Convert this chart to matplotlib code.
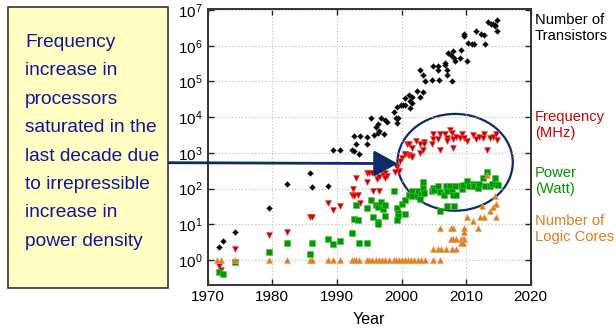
import matplotlib
matplotlib.use("Agg")
import matplotlib.pyplot as plt
from matplotlib.patches import Ellipse, Rectangle

plt.rcParams["font.family"] = ["Liberation Sans", "DejaVu Sans"]
plt.rcParams["mathtext.fontset"] = "custom"
plt.rcParams["mathtext.rm"] = "Liberation Sans"
plt.rcParams["mathtext.it"] = "Liberation Sans"

# ---------------------------------------------------------------------------
# data (year, value)
# ---------------------------------------------------------------------------
trans_year = [1971.7, 1972.3, 1974.2, 1979.5, 1982.2, 1985.9, 1986.2, 1988.6,
              1989.4, 1990.5, 1992.3, 1992.6, 1993.4, 1992.6, 1993.5, 1993.0,
              1994.7, 1994.7, 1995.3, 1995.7, 1996.3, 1996.5, 1996.1, 1996.3,
              1996.9, 1997.5, 1997.7, 1997.3, 1998.8, 1999.3, 1999.9, 2000.6,
              1999.2, 1999.5, 1999.3, 2001.3, 2001.1, 2000.5, 2001.3, 2001.7,
              2000.3, 2002.8, 2003.4, 2001.7, 2002.4, 2002.9, 2003.4, 2003.6,
              2004.7, 2004.8, 2005.6, 2005.8, 2005.7, 2006.7, 2007.0, 2007.1,
              2006.7, 2007.8, 2007.2, 2007.9, 2007.7, 2008.1, 2008.3, 2009.2,
              2009.1, 2010.1, 2009.6, 2009.7, 2010.3, 2010.9, 2011.3, 2011.5,
              2012.3, 2012.7, 2013.0, 2013.4, 2013.8, 2014.1, 2014.4, 2014.8,
              2014.8, 2014.5]
trans_val = [2.3, 3.5, 6.1, 29, 134, 275, 110, 118,
             1180, 1180, 1180, 1100, 910, 2950, 2950, 1740,
             1820, 2750, 9500, 3160, 3630, 4070, 5250, 6460,
             9550, 8500, 7400, 3470, 14100, 19000, 21400, 21400,
             9550, 9550, 6800, 18200, 40700, 34700, 27500, 24500,
             21400, 36300, 50100, 36300, 52500, 209000, 148000, 105000,
             112000, 263000, 209000, 112000, 263000, 288000, 155000, 209000,
             324000, 105000, 617000, 708000, 550000, 447000, 372000, 759000,
             447000, 372000, 2190000, 1860000, 1230000, 1120000, 1120000, 2570000,
             2190000, 2000000, 1120000, 4680000, 4170000, 4170000, 3630000, 5130000,
             2570000, 3720000]

freq_year = [1971.7, 1972.1, 1974.2, 1979.5, 1982.2, 1985.8, 1986.2, 1988.6,
             1989.4, 1990.5, 1992.3, 1992.6, 1993.3, 1993.5, 1993.0, 1992.5,
             1994.6, 1995.0, 1995.4, 1994.7, 1996.2, 1996.5, 1997.1, 1997.5,
             1997.8, 1997.5, 1995.6, 1996.5, 1999.3, 1999.6, 2000.1, 2000.6,
             2001.0, 2000.9, 1999.1, 1999.0, 1999.8, 2000.5, 2001.1, 2001.4,
             2001.7, 2001.2, 2001.7, 2002.2, 2002.8, 2002.9, 2003.3, 2003.5,
             2003.5, 2004.8, 2004.8, 2004.7, 2005.9, 2006.0, 2005.7, 2006.7,
             2007.0, 2007.5, 2007.8, 2007.1, 2008.0, 2007.9, 2008.4, 2009.1,
             2009.3, 2009.6, 2010.2, 2011.0, 2011.5, 2012.0, 2012.8, 2012.6,
             2013.3, 2013.7, 2014.2, 2014.6, 2014.8]
freq_val = [0.68, 0.52, 2.0, 4.9, 6.2, 15.5, 15.5, 39,
            25, 33, 65, 60, 68, 39, 200, 98,
            280, 280, 280, 150, 190, 205, 245, 270,
            225, 200, 87, 87, 410, 316, 740, 910,
            850, 1820, 440, 300, 600, 910, 870, 810,
            780, 1820, 1350, 2140, 1820, 1020, 1170, 2040,
            1740, 3470, 2510, 1820, 3310, 1170, 2400, 3470,
            2690, 4270, 3630, 2140, 2400, 1350, 2750, 2690,
            3310, 2570, 2140, 3160, 2400, 2750, 3470, 2690,
            1170, 2570, 2750, 3470, 2240]

power_year = [1971.7, 1972.3, 1974.2, 1979.5, 1982.2, 1985.9, 1986.2, 1988.6,
              1989.4, 1990.5, 1992.3, 1992.6, 1993.3, 1993.0, 1993.4, 1994.7,
              1994.7, 1995.3, 1995.6, 1996.0, 1996.3, 1996.4, 1996.4, 1996.8,
              1997.2, 1997.5, 1997.5, 1998.8, 1999.3, 1999.4, 1999.4, 1999.3,
              2000.1, 2000.6, 2000.6, 2001.1, 2001.7, 2001.7, 2002.4, 2002.6,
              2003.0, 2003.3, 2003.4, 2002.8, 2003.5, 2004.7, 2004.8, 2005.0,
              2005.7, 2005.9, 2006.0, 2006.6, 2006.9, 2007.0, 2007.1, 2007.5,
              2007.8, 2007.9, 2008.1, 2008.3, 2008.5, 2009.2, 2009.4, 2009.5,
              2010.2, 2010.5, 2011.0, 2011.3, 2011.8, 2012.0, 2012.6, 2013.0,
              2013.2, 2013.7, 2014.0, 2014.5, 2014.7, 2014.9]
power_val = [0.45, 0.41, 0.9, 1.7, 3.0, 1.5, 3.0, 3.9,
             2.8, 3.4, 5.7, 14, 13, 35, 3.0, 3.0,
             28, 49, 15.5, 35, 30, 11.5, 10, 43,
             26, 35, 16.6, 88, 29, 21, 17, 13.5,
             36, 47, 19, 65, 87, 60, 65, 87,
             71, 105, 151, 51, 74, 85, 105, 91,
             115, 79, 23, 68, 115, 32, 85, 115,
             85, 68, 32, 115, 68, 120, 98, 130,
             158, 120, 135, 120, 105, 135, 204, 120,
             282, 115, 135, 200, 135, 130]

cores_year = [1971.5, 1972.0, 1974.2, 1979.5, 1982.2, 1985.8, 1986.2, 1988.6,
              1989.4, 1990.5, 1992.3, 1992.7, 1993.0, 1993.4, 1994.6, 1995.0,
              1995.5, 1996.0, 1996.5, 1997.0, 1997.5, 1998.0, 1998.8, 1999.2,
              1999.6, 2000.0, 2000.5, 2001.0, 2001.5, 2002.0, 2002.5, 2003.0,
              2003.6, 2004.8, 2005.9,
              2004.8, 2005.7, 2006.1, 2006.9, 2007.8, 2008.4,
              2007.6, 2008.0, 2008.4, 2009.2, 2009.5, 2009.7,
              2009.2, 2009.5,
              2005.9, 2007.6, 2008.0, 2009.7, 2011.9,
              2009.7, 2011.1,
              2010.2, 2012.1, 2012.8, 2014.7,
              2012.4, 2013.7, 2014.1, 2014.7, 2014.5, 2013.3]
cores_val = [1] * 35 + \
            [2] * 6 + \
            [4] * 6 + \
            [3] * 2 + \
            [8] * 5 + \
            [6, 12] + \
            [16] * 4 + \
            [32, 24, 30, 36, 60, 240]

# ---------------------------------------------------------------------------
# figure
# ---------------------------------------------------------------------------
W, H = 616, 330
fig = plt.figure(figsize=(W / 100, H / 100), dpi=100)
fig.patch.set_facecolor("white")
ax = fig.add_axes([207.7 / W, 1 - 285 / H, 323 / W, 275.7 / H])

RED = "#cc0000"
GREEN = "#009900"
ORANGE = "#e07b1a"
NAVY = "#0d2a6b"

ax.plot(trans_year, trans_val, "D", color="black", ms=3.0, mew=0.3, mec="#444444")
ax.plot(freq_year, freq_val, "v", color=RED, ms=4.8, mew=0.4, mec="#e05050")
ax.plot(power_year, power_val, "s", color=GREEN, ms=4.6, mew=0.4, mec="#50c050")
ax.plot(cores_year, cores_val, "^", color=ORANGE, ms=4.8, mew=0.4, mec="#f0a060")

ax.set_yscale("log")
ax.set_xlim(1970, 2020)
ax.set_ylim(10 ** -0.7, 10 ** 7.02)
ax.set_xticks([1970, 1980, 1990, 2000, 2010, 2020])
ax.set_yticks([10 ** k for k in range(0, 8)])
ax.minorticks_off()
ax.tick_params(axis="both", which="major", direction="in", length=4,
               width=1.0, top=True, right=True, labelsize=11, colors="#222222",
               labelcolor="black")
ax.grid(True, which="major", linestyle=(0, (1, 2)), color="#bbbbbb", linewidth=0.8)
for s in ax.spines.values():
    s.set_linewidth(1.4)
    s.set_color("#333333")
ax.set_xlabel("Year", fontsize=11.5, labelpad=6)

# series labels at the right
lab_kw = dict(fontsize=10.6, va="center", ha="left", linespacing=1.25)
fig.text(535 / W, 1 - 28 / H, "Number of\nTransistors", color="black", **lab_kw)
fig.text(535 / W, 1 - 125 / H, "Frequency\n(MHz)", color=RED, **lab_kw)
fig.text(535 / W, 1 - 181 / H, "Power\n(Watt)", color=GREEN, **lab_kw)
fig.text(535 / W, 1 - 229 / H, "Number of\nLogic Cores", color=ORANGE, **lab_kw)

# callout box
box = Rectangle((8 / W, 1 - 288 / H), 160 / W, 281 / H, transform=fig.transFigure,
                facecolor="#ffffc4", edgecolor="#333333", linewidth=1.2)
fig.add_artist(box)
note_lines = ["Frequency", "increase in", "processors", "saturated in the",
              "last decade due", "to irrepressible", "increase in", "power density"]
for i, line in enumerate(note_lines):
    fig.text(25 / W, 1 - (42.5 + 28.4 * i) / H, line, color="#14149a",
             fontsize=13.8, va="center", ha="left")

# arrow and ellipse
ax.annotate("", xy=(1999.4, 10 ** 2.70), xycoords="data",
            xytext=(168 / W, 1 - 162.7 / H), textcoords="figure fraction",
            arrowprops=dict(arrowstyle="-|>,head_length=1.45,head_width=0.8",
                            color=NAVY, lw=2.0, shrinkA=0, shrinkB=0),
            annotation_clip=False)
ax.add_patch(Ellipse((0.766, 0.445), 0.357, 0.351, transform=ax.transAxes,
                     fill=False, edgecolor=NAVY, linewidth=1.6))

fig.savefig("out.png", dpi=100)
